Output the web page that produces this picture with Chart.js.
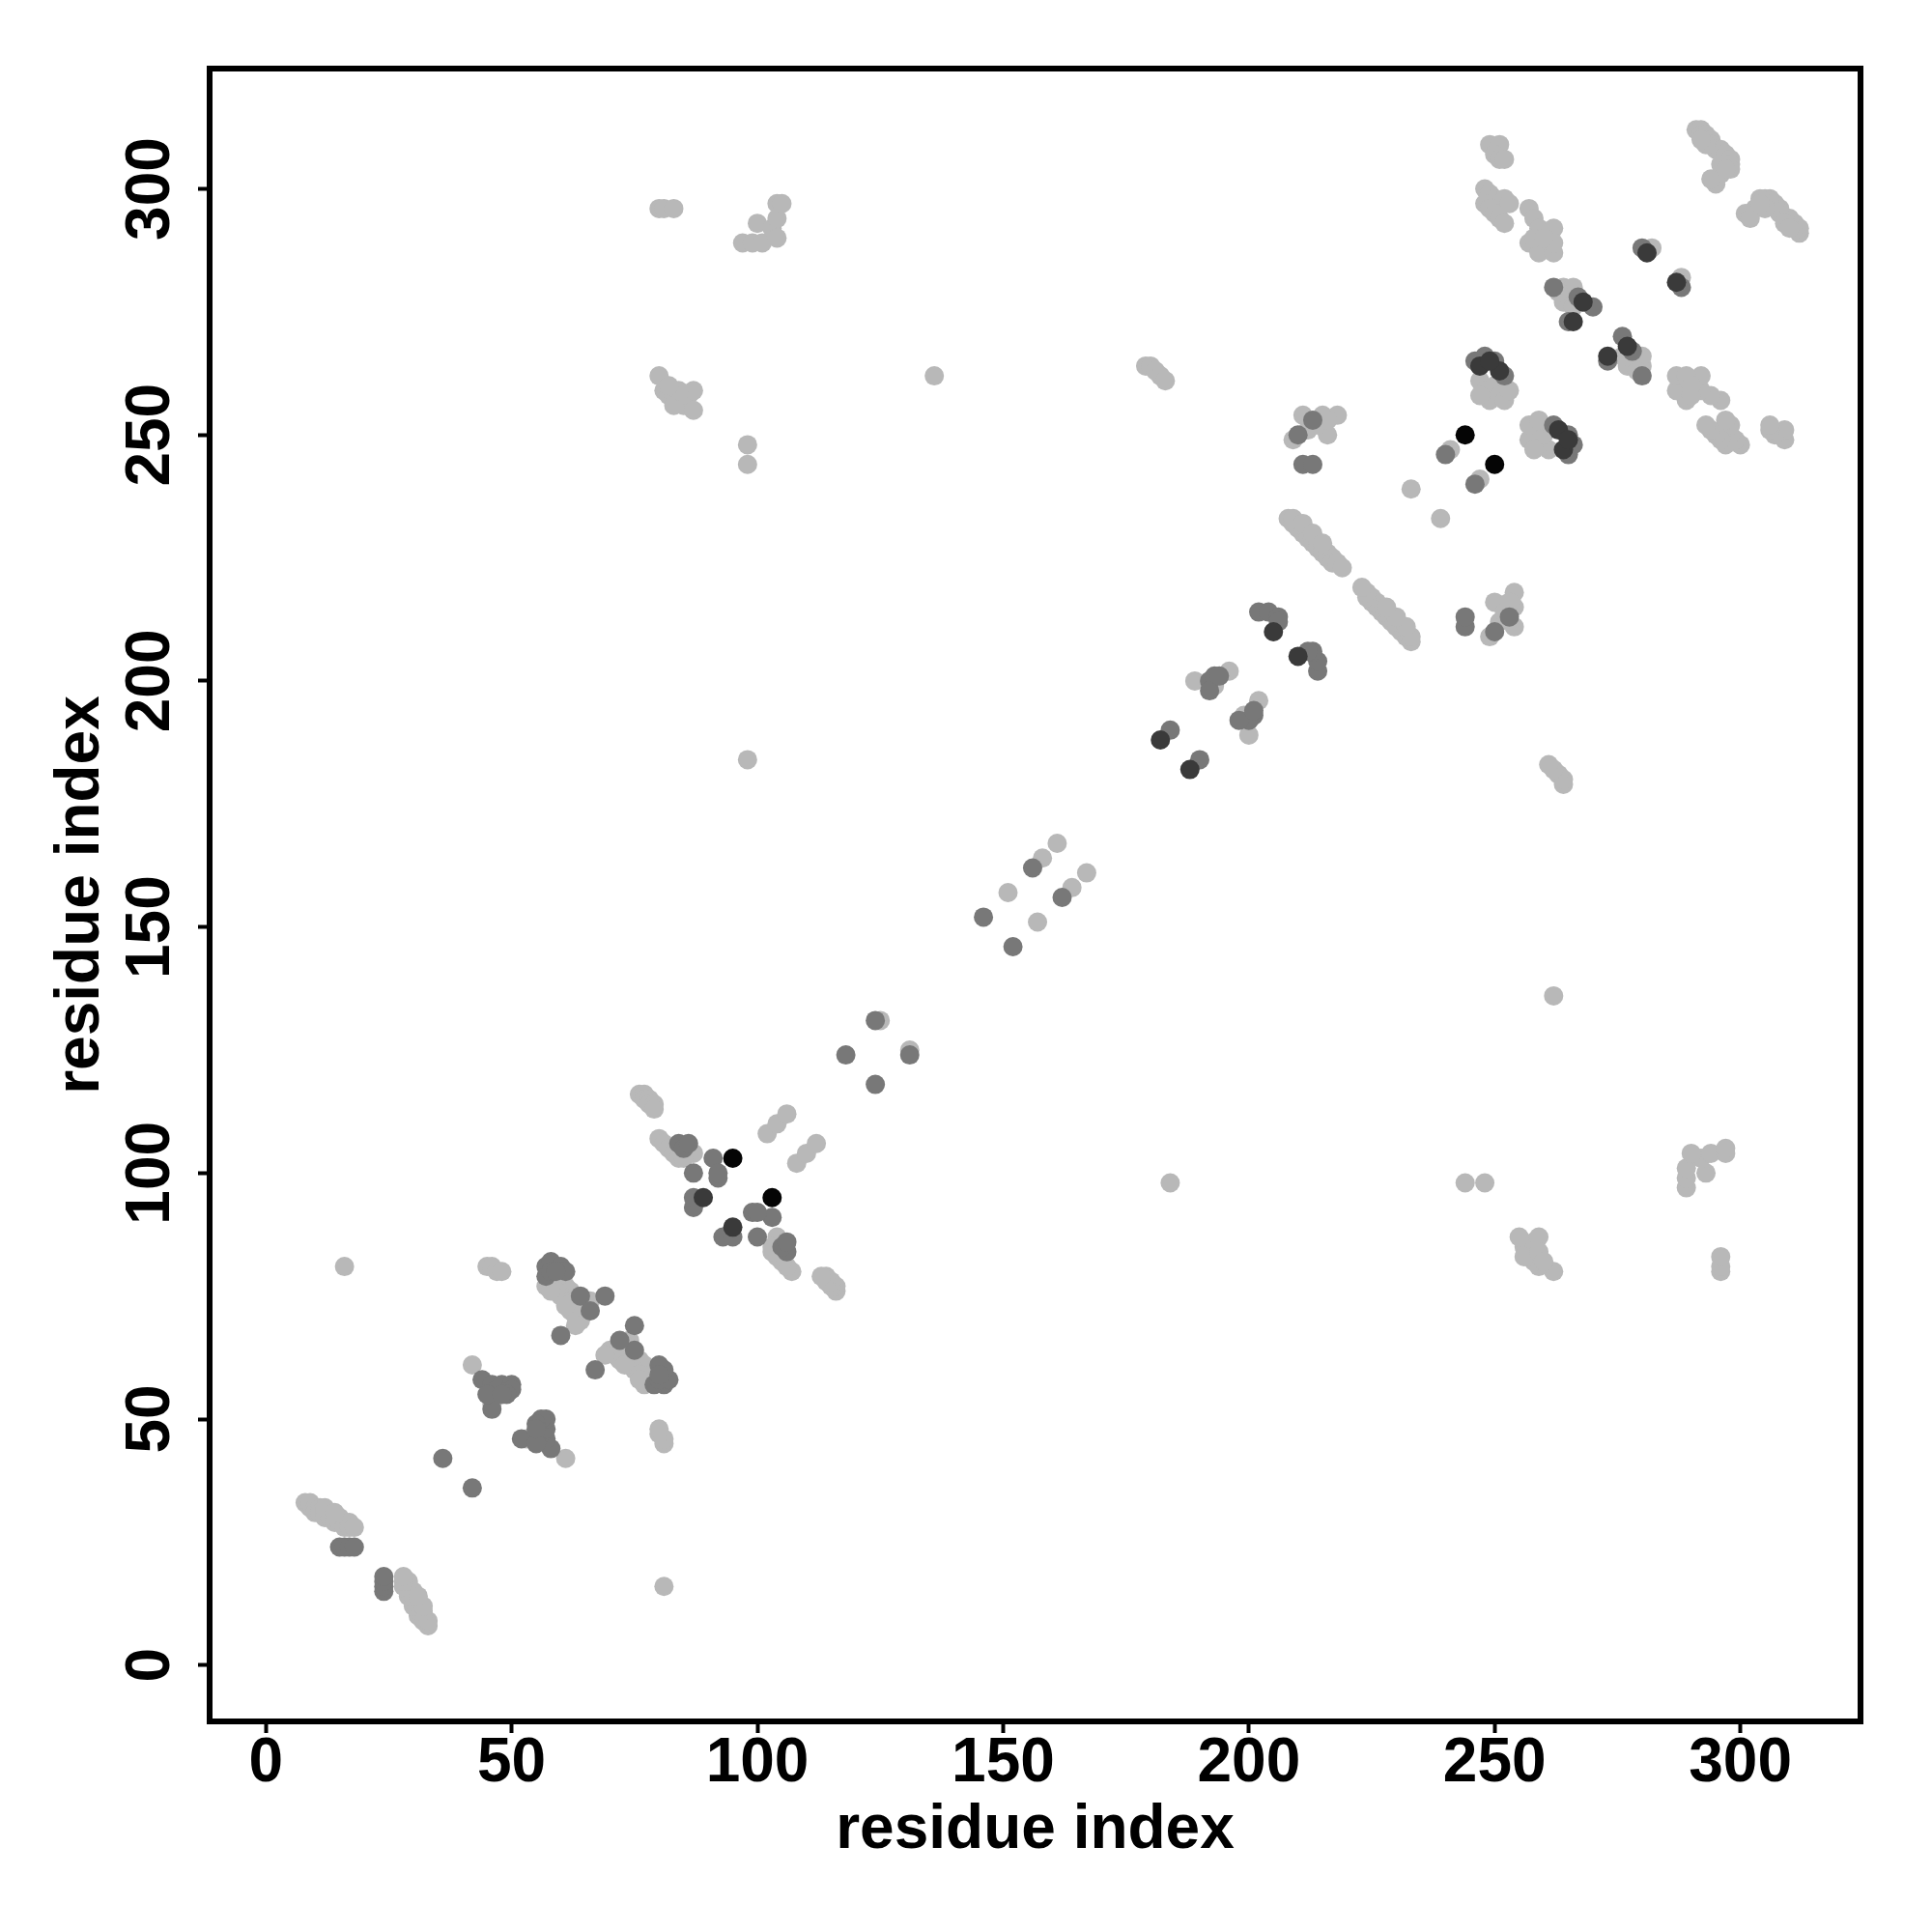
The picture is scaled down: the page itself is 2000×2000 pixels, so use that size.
<!DOCTYPE html>
<html>
<head>
<meta charset="utf-8">
<script src="https://cdn.jsdelivr.net/npm/chart.js@4.4.1/dist/chart.umd.min.js"></script>
<style>
  html, body { margin: 0; padding: 0; background: #fff; }
  canvas { display: block; }
</style>
</head>
<body>
<canvas id="map" width="2000" height="2000"></canvas>
<script>
// contact pairs [i, j] with i < j, drawn at (i, j) and (j, i)
const lightContacts = [
  [8,33],[9,32],[9,33],[10,32],[10,31],[11,32],[11,31],[12,31],[12,30],[13,31],[13,30],[14,30],[14,29],
  [15,30],[15,29],[16,29],[16,28],[17,29],[17,28],[18,28],[12,32],[14,31],
  [16,81],[42,61],[46,53],[45,81],[46,81],[47,80],[48,80],
  [57,77],[58,78],[59,77],[60,78],[61,77],[62,76],[60,75],[62,74],[63,74],[66,74],[65,73],[62,72],
  [64,70],[63,71],[61,73],[59,76],[58,76],[63,69],
  [76,116],[77,116],[77,115],[78,115],[78,114],[79,114],[79,113],
  [80,107],[81,106],[82,105],[83,104],[84,103],[87,104],[85,103],
  [102,108],[104,110],[106,112],[125,131],[151,157],[158,164],[161,167],[98,184],
  [189,200],[196,202],[193,199],
  [208,233],[209,232],[210,232],[210,231],[211,231],[211,230],[212,230],[212,229],[213,229],[213,228],
  [214,228],[214,227],[215,227],[215,226],[216,226],[216,225],[217,225],[217,224],[218,224],[219,223],
  [209,233],[211,232],[213,230],[215,228],
  [179,264],[180,264],[181,263],[182,262],[183,261],[136,262],[233,239],[241,247],
  [211,254],[215,254],[218,254],[212,251],[216,250],[209,249],[214,252],[216,253],
  [80,262],[81,259],[82,258],[83,258],[84,257],[85,256],[86,258],[87,259],[87,255],[83,256],[84,259],[82,260],
  [98,248],[98,244],[80,296],[81,296],[83,296],
  [97,289],[99,289],[101,289],[100,293],[103,292],[104,294],[104,290],[104,297],[105,297],
  [247,261],[248,259],[249,257],[250,260],[251,258],[252,257],[253,259],[247,258],
  [249,309],[251,309],[250,307],[251,306],[252,306],
  [248,300],[249,299],[250,298],[252,298],[248,297],[249,296],[250,295],[251,294],[252,293],[253,297],
  [257,296],[258,294],[259,292],[262,292],[257,289],[259,287],[262,287],[262,289],[258,290],[260,290],
  [264,280],[266,280],[264,277],[266,276],[263,279],[282,288],
  [291,312],[292,312],[292,311],[293,311],[294,310],[294,309],[295,308],[296,308],[297,307],[298,306],
  [298,305],[298,304],[296,303],[295,301],[294,302],[293,309],[292,310],[296,305],[297,304]
];
const midContacts = [
  [15,24],[16,24],[17,24],[18,24],[36,42],
  [44,58],[46,57],[47,56],[48,57],[50,57],[50,56],[49,55],[46,52],[45,55],[48,55],
  [57,81],[58,82],[60,81],[61,80],[57,79],[58,80],[59,80],[64,75],[69,75],[60,67],[66,72],
  [84,106],[85,105],[86,106],[91,103],[92,99],[87,100],[87,93],[87,95],[92,100],
  [118,124],[124,131],[146,152],[156,162],[184,190],
  [192,200],[193,201],[192,198],[194,201],[202,214],[204,214],[206,213],[206,212],
  [211,244],[213,244],[213,253],[210,250],[240,246],
  [246,265],[248,266],[250,265],[252,262],[262,280],[265,273],[270,276],[267,278],[280,288]
];
const darkContacts = [
  [89,95],[182,188],[205,210],[251,263],[247,264],[249,265],
  [266,273],[268,277],[281,287]
];
const blackContacts = [[95,103],[244,250]];

const xTickValues = [0, 50, 100, 150, 200, 250, 300];
const yTickValues = [0, 50, 100, 150, 200, 250, 300];
const axisMin = -11.44, axisMax = 324.44;

function mirrored(pairs) {
  const out = [];
  pairs.forEach(p => { out.push({ x: p[0], y: p[1] }); out.push({ x: p[1], y: p[0] }); });
  return out;
}

function dataset(pairs, color) {
  return { data: mirrored(pairs), backgroundColor: color, borderWidth: 0, pointRadius: 10, pointHoverRadius: 10 };
}

const FONT = 'bold 64px "Liberation Sans", Arial, sans-serif';

const frame = {
  id: 'frame',
  beforeDraw(chart) {
    const c = chart.ctx;
    c.save(); c.fillStyle = '#fff'; c.fillRect(0, 0, chart.width, chart.height); c.restore();
  },
  afterDraw(chart) {
    const c = chart.ctx, a = chart.chartArea;
    const xs = chart.scales.x, ys = chart.scales.y;
    c.save();
    c.strokeStyle = '#000'; c.lineWidth = 6;
    c.strokeRect(a.left, a.top, a.right - a.left, a.bottom - a.top);
    c.fillStyle = '#000'; c.font = FONT;
    c.textAlign = 'center'; c.textBaseline = 'alphabetic';
    xTickValues.forEach(v => c.fillText(String(v), xs.getPixelForValue(v), 1844));
    yTickValues.forEach(v => {
      c.save(); c.translate(175, ys.getPixelForValue(v)); c.rotate(-Math.PI / 2);
      c.fillText(String(v), 0, 0); c.restore();
    });
    c.fillText('residue index', (a.left + a.right) / 2, 1913);
    c.save(); c.translate(102, (a.top + a.bottom) / 2); c.rotate(-Math.PI / 2);
    c.fillText('residue index', 0, 0); c.restore();
    c.restore();
  }
};

const axis = (vals, fit) => ({
  type: 'linear', min: axisMin, max: axisMax,
  afterBuildTicks: s => { s.ticks = vals.map(v => ({ value: v })); },
  afterFit: fit,
  ticks: { display: false },
  grid: { drawOnChartArea: false, drawTicks: true, tickLength: 12, tickWidth: 4, tickColor: '#000' },
  border: { display: false }
});

new Chart(document.getElementById('map'), {
  type: 'scatter',
  data: {
    datasets: [
      dataset(darkContacts, '#3a3a3a'),
      dataset(midContacts, '#787878'),
      dataset(lightContacts, '#b8b8b8'),
      dataset(blackContacts, '#050505')
    ]
  },
  options: {
    responsive: false, animation: false, devicePixelRatio: 1,
    layout: { padding: { top: 71, right: 74, left: 0, bottom: 0 } },
    plugins: { legend: { display: false }, tooltip: { enabled: false } },
    scales: {
      x: axis(xTickValues, s => { s.height = 218; }),
      y: axis(yTickValues, s => { s.width = 217; })
    }
  },
  plugins: [frame]
});
</script>
</body>
</html>
